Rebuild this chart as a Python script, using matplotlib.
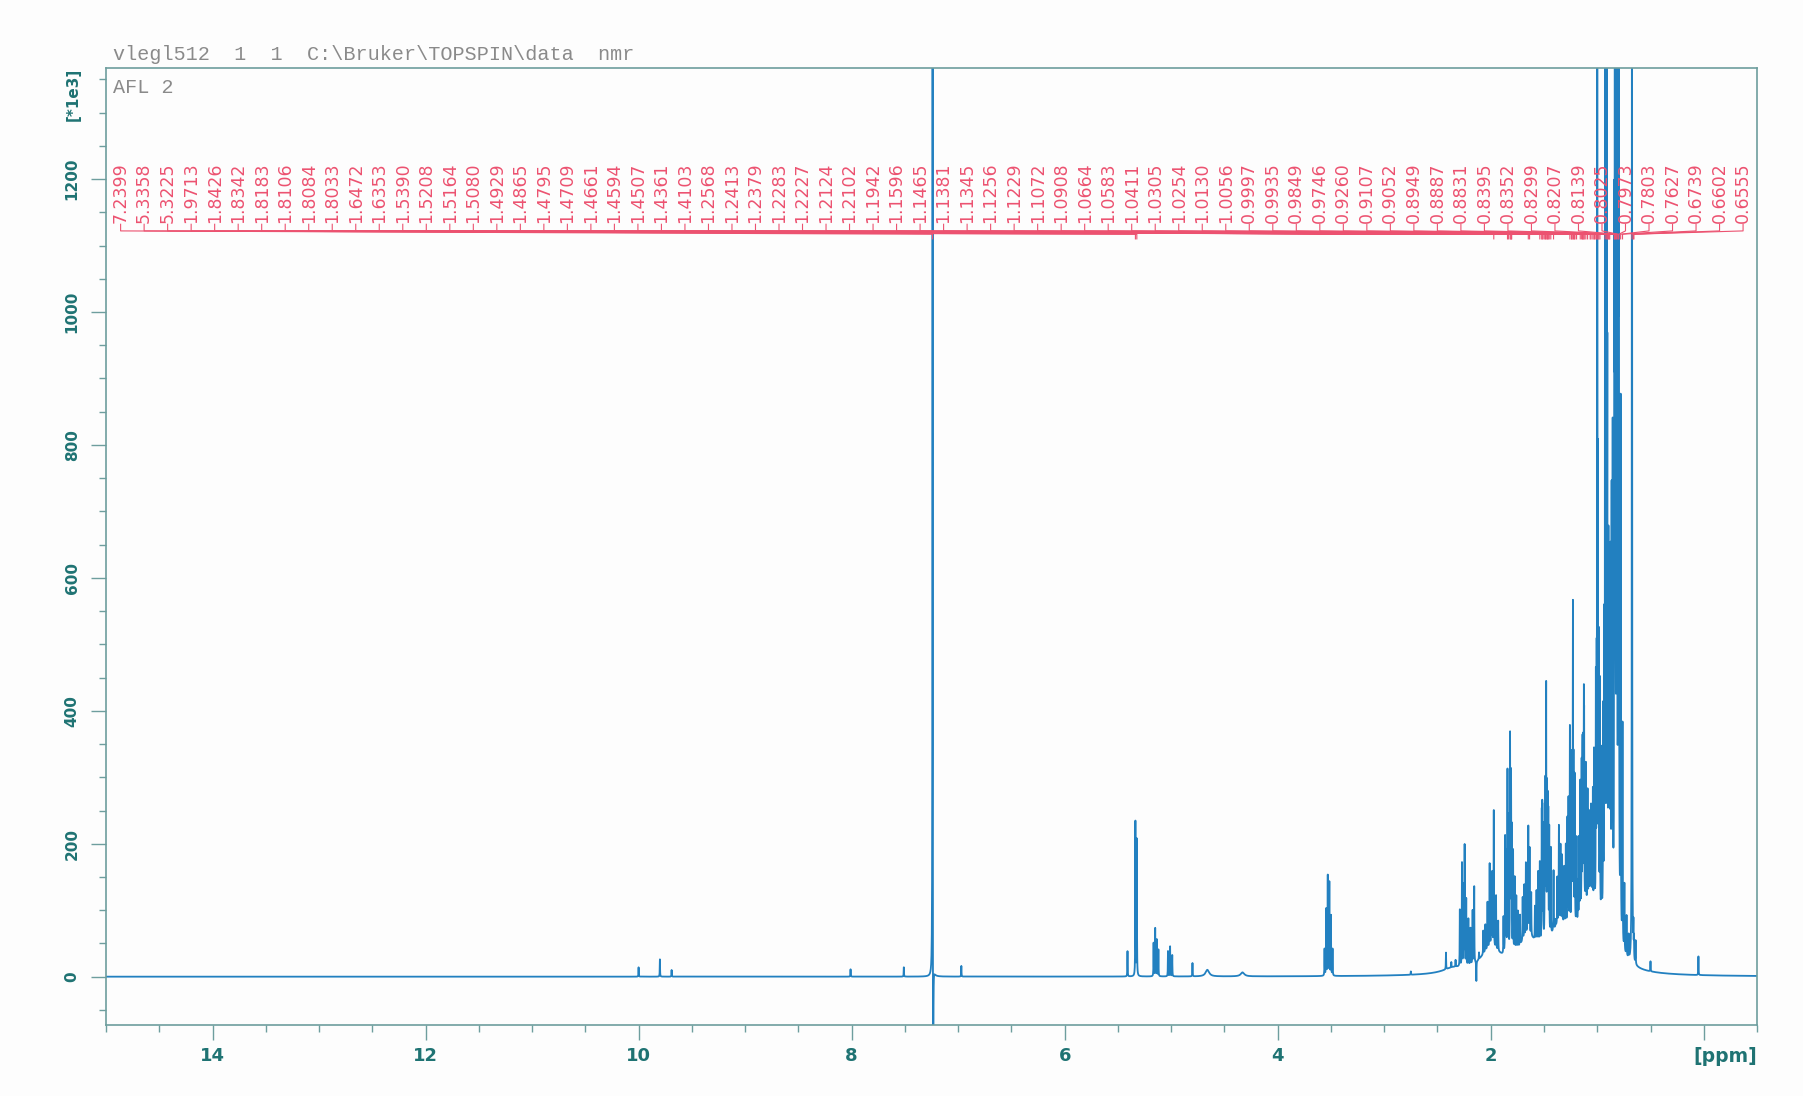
## libraries ##
import numpy as np
import matplotlib
matplotlib.use('Agg')
import matplotlib.pyplot as plt
from matplotlib.ticker import MultipleLocator
from matplotlib.transforms import blended_transform_factory


## picked peaks: shift (ppm) and line intensity (*1e3) ##
picked_ppm = [7.2399, 5.3358, 5.3225, 1.9713, 1.8426, 1.8342, 1.8183, 1.8106, 1.8084, 1.8033,
              1.6472, 1.6353, 1.5390, 1.5208, 1.5164, 1.5080, 1.4929, 1.4865, 1.4795, 1.4709,
              1.4661, 1.4594, 1.4507, 1.4361, 1.4103, 1.2568, 1.2413, 1.2379, 1.2283, 1.2227,
              1.2124, 1.2102, 1.1942, 1.1596, 1.1465, 1.1381, 1.1345, 1.1256, 1.1229, 1.1072,
              1.0908, 1.0664, 1.0583, 1.0411, 1.0305, 1.0254, 1.0130, 1.0056, 0.9997, 0.9935,
              0.9849, 0.9746, 0.9260, 0.9107, 0.9052, 0.8949, 0.8887, 0.8831, 0.8395, 0.8352,
              0.8299, 0.8207, 0.8139, 0.8025, 0.7973, 0.7803, 0.7627, 0.6739, 0.6602, 0.6555]
picked_int = [2000, 232, 205, 205, 270, 200, 320, 200, 180, 170,
              160, 130, 120, 180, 190, 170, 190, 220, 370, 210,
              190, 180, 160, 130, 90, 300, 210, 220, 470, 230,
              170, 160, 130, 200, 220, 220, 220, 270, 230, 210,
              170, 120, 150, 180, 230, 200, 340, 280, 2000, 600,
              400, 350, 2000, 2000, 700, 500, 450, 420, 900, 1400,
              1500, 1300, 1600, 1800, 1800, 800, 330, 2000, 45, 30]

## other sharp lines (not picked) ##
line_ppm = [10.00, 9.80, 9.69, 8.01, 7.51, 7.235, 6.97, 5.41, 5.165, 5.150,
            5.135, 5.120, 5.030, 5.010, 4.990, 4.80, 3.560, 3.545, 3.530, 3.515,
            3.500, 3.485, 2.75, 2.42, 2.37, 2.33, 2.29, 2.27, 2.255, 2.245,
            2.23, 2.21, 2.19, 2.17, 2.155, 2.135, 2.11, 2.07, 2.05, 2.03,
            2.01, 1.995, 1.985, 1.95, 1.93, 1.88, 1.865, 1.855, 1.79, 1.775,
            1.76, 1.745, 1.725, 1.70, 1.685, 1.67, 1.655, 1.62, 1.585, 1.57,
            1.555, 1.39, 1.375, 1.36, 1.345, 1.33, 1.31, 1.295, 1.28, 1.27,
            1.18, 1.17, 1.08, 1.075, 1.05, 0.96, 0.945, 0.935, 0.875, 0.865,
            0.855, 0.745, 0.725, 0.705, 0.64, 0.50, 0.05]
line_int = [14, 26, 10, 11, 14, -800, 16, 38, 50, 72,
            55, 40, 38, 45, 32, 20, 40, 100, 150, 140,
            90, 40, 5, 25, 8, 10, 85, 155, 120, 180,
            100, 70, 55, 80, 115, -30, 10, 35, 40, 70,
            125, 90, 110, 80, 45, 55, 175, 150, 150, 110,
            80, 55, 45, 65, 80, 110, 90, 65, 50, 75,
            105, 10, 70, 145, 115, 100, 85, 120, 160, 190,
            60, 120, 130, 120, 150, 250, 300, 400, 500, 600,
            700, 100, 60, 35, 35, 15, 28]

## broad humps under the multiplets ##
broad_ppm = [4.66, 4.33, 2.35, 2.00, 1.65, 1.35, 1.10, 0.88]
broad_int = [10, 6, 8, 35, 45, 60, 80, 80]
broad_hw = [0.02, 0.02, 0.12, 0.12, 0.12, 0.12, 0.10, 0.08]

header = r'vlegl512  1  1  C:\Bruker\TOPSPIN\data  nmr'
plot_title = 'AFL 2'

LINE_HW = 0.0015   # half width of sharp lines in ppm


## build spectrum as a sum of lorentzians ##
def lorentz(x, x0, h, w):
    return h * w ** 2 / ((x - x0) ** 2 + w ** 2)

ppm = np.arange(-0.5, 15.0, 0.0005)
ppm = np.unique(np.concatenate([ppm, picked_ppm, line_ppm]))
spec = np.zeros_like(ppm)
for x0, h in zip(picked_ppm + line_ppm, picked_int + line_int):
    spec += lorentz(ppm, x0, h, LINE_HW)
for x0, h, w in zip(broad_ppm, broad_int, broad_hw):
    spec += lorentz(ppm, x0, h, w)


## colours ##
blue = '#2280c0'
red = '#ec5270'
teal = '#1f7373'
frame = '#6e9e9e'
paper = '#fdfdfd'

fig = plt.figure(figsize=(18.03, 10.96), dpi=100, facecolor=paper)
ax = fig.add_axes([0.0588, 0.0652, 0.9157, 0.8727])
ax.set_facecolor(paper)

ax.plot(ppm, spec, color=blue, lw=1.3)
ax.set_xlim(15.0, -0.5)
ax.set_ylim(-72, 1367)

for s in ax.spines.values():
    s.set_color(frame)
    s.set_linewidth(1.2)

## ticks ##
ax.xaxis.set_major_locator(MultipleLocator(2))
ax.xaxis.set_minor_locator(MultipleLocator(0.5))
ax.yaxis.set_major_locator(MultipleLocator(200))
ax.yaxis.set_minor_locator(MultipleLocator(50))
ax.tick_params(which='major', length=11, width=1, color=frame, labelcolor=teal, labelsize=11)
ax.tick_params(which='minor', length=5, width=1, color=frame)
ax.tick_params(axis='x', pad=5, labelsize=13)
ax.tick_params(axis='y', labelrotation=90, pad=8)

xt = np.arange(0, 15, 2)
ax.set_xticks(xt, ['' if v == 0 else str(v) for v in xt], fontweight='bold')
yt = np.arange(0, 1201, 200)
ax.set_yticks(yt, [str(v) for v in yt], fontweight='bold', va='center')

bt = blended_transform_factory(ax.transAxes, ax.transData)
ax.text(-0.020, 1328, '[*1e3]', transform=bt, rotation=90, ha='center', va='center',
        color=teal, fontsize=11, fontweight='bold')
ax.text(1.0, -0.033, '[ppm]', transform=ax.transAxes, ha='right', va='center',
        color=teal, fontsize=13.5, fontweight='bold')

## peak labels with leader lines ##
lab_x = np.linspace(14.863, -0.369, len(picked_ppm))
for xl, xp in zip(lab_x, picked_ppm):
    ax.text(xl, 1134, f'{xp:.4f}', rotation=90, ha='center', va='bottom',
            color=red, fontsize=12.5)
    ax.plot([xl, xl, xp, xp], [1132, 1122, 1117, 1110], color=red, lw=0.8)

## header lines ##
fig.text(0.0627, 0.9507, header, family='Liberation Mono', fontsize=14.5,
         color='#8a8a8a', va='center')
fig.text(0.0627, 0.9206, plot_title, family='Liberation Mono', fontsize=14.5,
         color='#8a8a8a', va='center')

fig.savefig('out.png', dpi=100, facecolor=paper)
